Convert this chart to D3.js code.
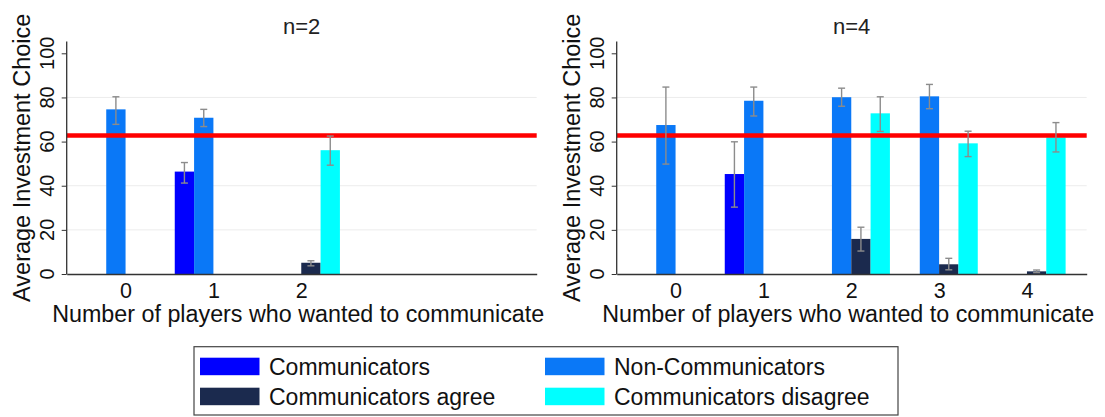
<!DOCTYPE html>
<html>
<head>
<meta charset="utf-8">
<script src="https://cdn.jsdelivr.net/npm/d3@7"></script>
<style>
  html, body { margin: 0; padding: 0; background: #fff; }
  svg { display: block; font-family: "Liberation Sans", Arial, sans-serif; }
</style>
</head>
<body>
<svg id="chart" width="1105" height="417"></svg>
<script>
// ---------- data ----------
const seriesNames = ["Communicators", "Non-Communicators", "Communicators agree", "Communicators disagree"];
const seriesColors = ["#0000ff", "#0a78f7", "#1b2a4e", "#00ffff"];

const panelTitles = ["n=2", "n=4"];
const categoriesN2 = [0, 1, 2];
const categoriesN4 = [0, 1, 2, 3, 4];
const yTicks = [0, 20, 40, 60, 80, 100];
const gridValues = [20, 40, 80];
const referenceLine = 62.7;

// n = 2 (null = no bar)
const commN2      = [null, 46.4, null];
const commN2Lo    = [null, 41.2, null];
const commN2Hi    = [null, 50.5, null];
const nonCommN2   = [74.6, 70.8, null];
const nonCommN2Lo = [67.8, 66.8, null];
const nonCommN2Hi = [80.3, 74.6, null];
const agreeN2     = [null, null, 5.1];
const agreeN2Lo   = [null, null, 3.7];
const agreeN2Hi   = [null, null, 6.0];
const disN2       = [null, null, 56.1];
const disN2Lo     = [null, null, 49.3];
const disN2Hi     = [null, null, 62.5];

// n = 4
const commN4      = [null, 45.3, null, null, null];
const commN4Lo    = [null, 30.3, null, null, null];
const commN4Hi    = [null, 59.9, null, null, null];
const nonCommN4   = [67.5, 78.5, 80.1, 80.5, null];
const nonCommN4Lo = [49.8, 71.6, 76.0, 74.9, null];
const nonCommN4Hi = [84.7, 84.7, 84.2, 85.9, null];
const agreeN4     = [null, null, 15.9, 4.4, 1.2];
const agreeN4Lo   = [null, null, 10.4, 1.9, 0.6];
const agreeN4Hi   = [null, null, 21.2, 7.1, 1.8];
const disN4       = [null, null, 72.8, 59.2, 61.9];
const disN4Lo     = [null, null, 64.6, 53.2, 55.3];
const disN4Hi     = [null, null, 80.3, 64.7, 68.6];

const panels = [
  { title: panelTitles[0], cats: categoriesN2,
    series: [[commN2, commN2Lo, commN2Hi], [nonCommN2, nonCommN2Lo, nonCommN2Hi],
             [agreeN2, agreeN2Lo, agreeN2Hi], [disN2, disN2Lo, disN2Hi]] },
  { title: panelTitles[1], cats: categoriesN4,
    series: [[commN4, commN4Lo, commN4Hi], [nonCommN4, nonCommN4Lo, nonCommN4Hi],
             [agreeN4, agreeN4Lo, agreeN4Hi], [disN4, disN4Lo, disN4Hi]] }
];

// ---------- layout ----------
const svg = d3.select("#chart");
const FONT = "\"Liberation Sans\", Arial, sans-serif";
const plotLefts = [66.7, 616.7];
const plotWidth = 470;
const yBottom = 274, yTop100 = 53.3;
const xDomain = [-0.67, 4.68];
const barW = 0.22;             // bar width in category units
const seriesOffset = [-2, -1, 0, 1]; // left edge offset in bar widths

const y = d3.scaleLinear().domain([0, 100]).range([yBottom, yTop100]);

panels.forEach((p, pi) => {
  const x0 = plotLefts[pi];
  const x = d3.scaleLinear().domain(xDomain).range([x0, x0 + plotWidth]);
  const g = svg.append("g");
  const bwPx = x(barW) - x(0);

  // gridlines
  g.selectAll(".grid").data(gridValues).join("line")
    .attr("x1", x0).attr("x2", x0 + plotWidth)
    .attr("y1", d => y(d)).attr("y2", d => y(d))
    .attr("stroke", "#ececec").attr("stroke-width", 1);

  // bars
  p.series.forEach((s, si) => {
    const [vals, lo, hi] = s;
    const data = p.cats.map((c, i) => ({ c, v: vals[i], lo: lo[i], hi: hi[i] })).filter(d => d.v != null);
    g.selectAll(null).data(data).join("rect")
      .attr("x", d => x(d.c + seriesOffset[si] * barW))
      .attr("width", bwPx)
      .attr("y", d => y(d.v))
      .attr("height", d => y(0) - y(d.v))
      .attr("fill", seriesColors[si]);
  });

  // reference line
  g.append("line")
    .attr("x1", x0).attr("x2", x0 + plotWidth)
    .attr("y1", y(referenceLine)).attr("y2", y(referenceLine))
    .attr("stroke", "#ff0000").attr("stroke-width", 4.5);

  // error bars
  p.series.forEach((s, si) => {
    const [vals, lo, hi] = s;
    const data = p.cats.map((c, i) => ({ c, v: vals[i], lo: lo[i], hi: hi[i] })).filter(d => d.v != null);
    const eg = g.selectAll(null).data(data).join("g")
      .attr("stroke", "#8c8c8c").attr("stroke-width", 1.4);
    const cx = d => x(d.c + (seriesOffset[si] + 0.5) * barW);
    eg.append("line").attr("x1", cx).attr("x2", cx).attr("y1", d => y(d.lo)).attr("y2", d => y(d.hi));
    eg.append("line").attr("x1", d => cx(d) - 3.5).attr("x2", d => cx(d) + 3.5).attr("y1", d => y(d.lo)).attr("y2", d => y(d.lo));
    eg.append("line").attr("x1", d => cx(d) - 3.5).attr("x2", d => cx(d) + 3.5).attr("y1", d => y(d.hi)).attr("y2", d => y(d.hi));
  });

  // y axis: tick marks from d3 axis, rotated labels placed via the scale
  const yAxis = d3.axisLeft(y).tickValues(yTicks).tickSize(5).tickFormat("");
  const ya = g.append("g").attr("transform", `translate(${x0},0)`).call(yAxis);
  ya.select(".domain").remove();
  ya.selectAll(".tick line").attr("stroke", "#333");
  ya.selectAll(".tick text").remove();
  g.selectAll(null).data(yTicks).join("text")
    .attr("class", "ytick-label")
    .attr("transform", d => `translate(${x0 - 13},${y(d)}) rotate(-90)`)
    .attr("text-anchor", "middle")
    .style("font-size", "20px").style("fill", "#111")
    .text(d => d3.format("d")(d));
  g.append("line").attr("x1", x0).attr("x2", x0)
    .attr("y1", yBottom).attr("y2", y(105.3))
    .attr("stroke", "#333").attr("stroke-width", 1.3);

  // x axis
  const xAxis = d3.axisBottom(x).tickValues(p.cats).tickSize(0).tickPadding(0).tickFormat(d3.format("d"));
  const xa = g.append("g").attr("transform", `translate(0,${yBottom})`).call(xAxis);
  xa.select(".domain").attr("stroke", "#333").attr("stroke-width", 1.3);
  xa.selectAll(".tick text").attr("y", 24).attr("dy", 0)
    .style("font-size", "21.5px").style("font-family", FONT).style("fill", "#111");

  // titles
  g.append("text").attr("x", x0 + plotWidth / 2).attr("y", 33.5)
    .attr("text-anchor", "middle").style("font-size", "22px").style("fill", "#222").text(p.title);
  g.append("text").attr("x", x0 + plotWidth / 2 - 3.5).attr("y", 322)
    .attr("text-anchor", "middle").style("font-size", "23.3px").style("fill", "#111")
    .text("Number of players who wanted to communicate");
  g.append("text")
    .attr("transform", `translate(${x0 - 37},${(yBottom + y(105.3)) / 2}) rotate(-90)`)
    .attr("text-anchor", "middle").style("font-size", "23.5px").style("fill", "#111")
    .text("Average Investment Choice");
});

// ---------- legend ----------
const lg = svg.append("g");
lg.append("rect").attr("x", 194).attr("y", 346.7).attr("width", 704).attr("height", 68.3)
  .attr("fill", "#fff").attr("stroke", "#444").attr("stroke-width", 1.2);
const legendPos = [[200, 357.7], [545, 357.7], [200, 387.7], [545, 387.7]];
const legendOrder = [0, 1, 2, 3];
legendOrder.forEach((si, k) => {
  const [lx, ly] = legendPos[k];
  lg.append("rect").attr("x", lx).attr("y", ly).attr("width", 59.5).attr("height", 17.5)
    .attr("fill", seriesColors[si]);
  lg.append("text").attr("x", lx + 69).attr("y", ly + 16.8)
    .style("font-size", "23px").style("fill", "#111").text(seriesNames[si]);
});
</script>
</body>
</html>
